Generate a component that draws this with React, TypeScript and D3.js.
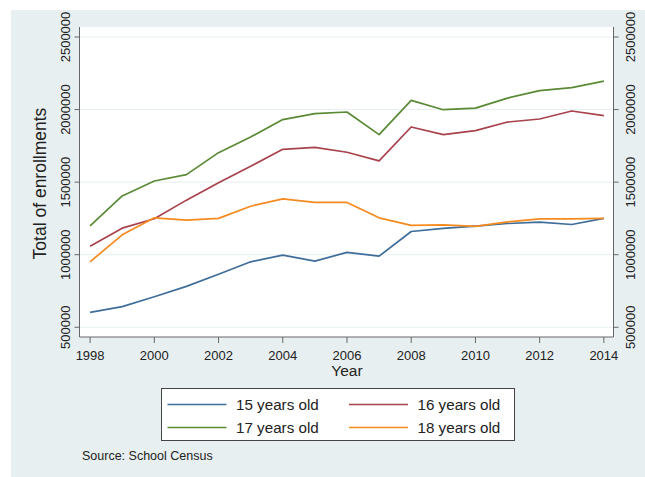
import React from "react";
import * as d3 from "d3";

const years = [1998,1999,2000,2001,2002,2003,2004,2005,2006,2007,2008,2009,2010,2011,2012,2013,2014];
const age15 = [603000,642000,710000,782000,865000,951000,997000,956000,1016000,990000,1160000,1181000,1197000,1215000,1224000,1208000,1250000];
const age16 = [1059000,1183000,1248000,1376000,1495000,1609000,1726000,1740000,1706000,1646000,1880000,1827000,1855000,1914000,1935000,1990000,1958000];
const age17 = [1198000,1405000,1508000,1552000,1703000,1811000,1931000,1972000,1983000,1827000,2063000,1999000,2010000,2079000,2130000,2151000,2196000];
const age18 = [951000,1137000,1254000,1238000,1250000,1334000,1385000,1360000,1360000,1254000,1202000,1206000,1195000,1226000,1247000,1247000,1250000];
const seriesNames = ["15 years old","16 years old","17 years old","18 years old"];
const seriesColors = ["#3f6e9a","#a8424c","#5a8a35","#f58a1f"];
const yTicks = [500000,1000000,1500000,2000000,2500000];
const xTicks = [1998,2000,2002,2004,2006,2008,2010,2012,2014];

const W = 645, H = 477;
const L = 79.5, R = 613.5, T = 27, B = 337;
const font = "'Liberation Sans', Arial, Helvetica, sans-serif";

export default function App() {
  const x = d3.scaleLinear().domain([1997.67, 2014.3]).range([L, R]);
  const y = d3.scaleLinear().domain([433000, 2568800]).range([B, T]);
  const line = d3.line<number>().x((_, i) => x(years[i])).y(v => y(v));
  const all = [age15, age16, age17, age18];
  const axisColor = "#666";
  const legendRows = [[0,1],[2,3]];
  return (
    <svg width={W} height={H} style={{position:"absolute", left:0, top:0}} fontFamily={font}>
      <rect x={0} y={0} width={W} height={H} fill="#fff" />
      <rect x={11} y={10} width={W-11} height={H-10} fill="#e8eff1" />
      <rect x={L} y={T} width={R-L} height={B-T} fill="#fff" />
      {yTicks.map(t => (
        <line key={"g"+t} x1={L} x2={R} y1={y(t)} y2={y(t)} stroke="#e6eff1" strokeWidth={1} />
      ))}
      {all.map((s, k) => (
        <path key={k} d={line(s) || ""} fill="none" stroke={seriesColors[k]} strokeWidth={1.7} strokeLinejoin="round" />
      ))}
      <line x1={L} x2={L} y1={T} y2={B} stroke={axisColor} strokeWidth={1} />
      <line x1={R} x2={R} y1={T} y2={B} stroke={axisColor} strokeWidth={1} />
      <line x1={L} x2={R} y1={B} y2={B} stroke={axisColor} strokeWidth={1} />
      {yTicks.map(t => (
        <g key={"yt"+t}>
          <line x1={L-5} x2={L} y1={y(t)} y2={y(t)} stroke={axisColor} />
          <line x1={R} x2={R+5} y1={y(t)} y2={y(t)} stroke={axisColor} />
          <text transform={`translate(${65.5},${y(t)}) rotate(-90)`} textAnchor="middle" dominantBaseline="central" fontSize={13} fill="#222">{t}</text>
          <text transform={`translate(${630},${y(t)}) rotate(-90)`} textAnchor="middle" dominantBaseline="central" fontSize={13} fill="#222">{t}</text>
        </g>
      ))}
      {xTicks.map(t => (
        <g key={"xt"+t}>
          <line x1={x(t)} x2={x(t)} y1={B} y2={B+6} stroke={axisColor} />
          <text x={x(t)} y={355} textAnchor="middle" dominantBaseline="central" fontSize={13} fill="#222">{t}</text>
        </g>
      ))}
      <text x={347} y={376} textAnchor="middle" fontSize={15.5} fill="#222">Year</text>
      <text transform={`translate(40,183.5) rotate(-90)`} textAnchor="middle" dominantBaseline="central" fontSize={17.5} fill="#222">Total of enrollments</text>
      <rect x={161.5} y={388.5} width={353} height={52} fill="#fff" stroke="#444" strokeWidth={1} />
      {legendRows.map((row, r) => row.map((k, c) => {
        const lx = c === 0 ? 167.5 : 349;
        const ly = r === 0 ? 404.5 : 427.5;
        return (
          <g key={"lg"+k}>
            <line x1={lx} x2={lx+59} y1={ly} y2={ly} stroke={seriesColors[k]} strokeWidth={1.7} />
            <text x={lx+68.5} y={ly} dominantBaseline="central" fontSize={15.2} fill="#222">{seriesNames[k]}</text>
          </g>
        );
      }))}
      <text x={82} y={456} dominantBaseline="central" fontSize={12.5} fill="#222">Source: School Census</text>
    </svg>
  );
}
